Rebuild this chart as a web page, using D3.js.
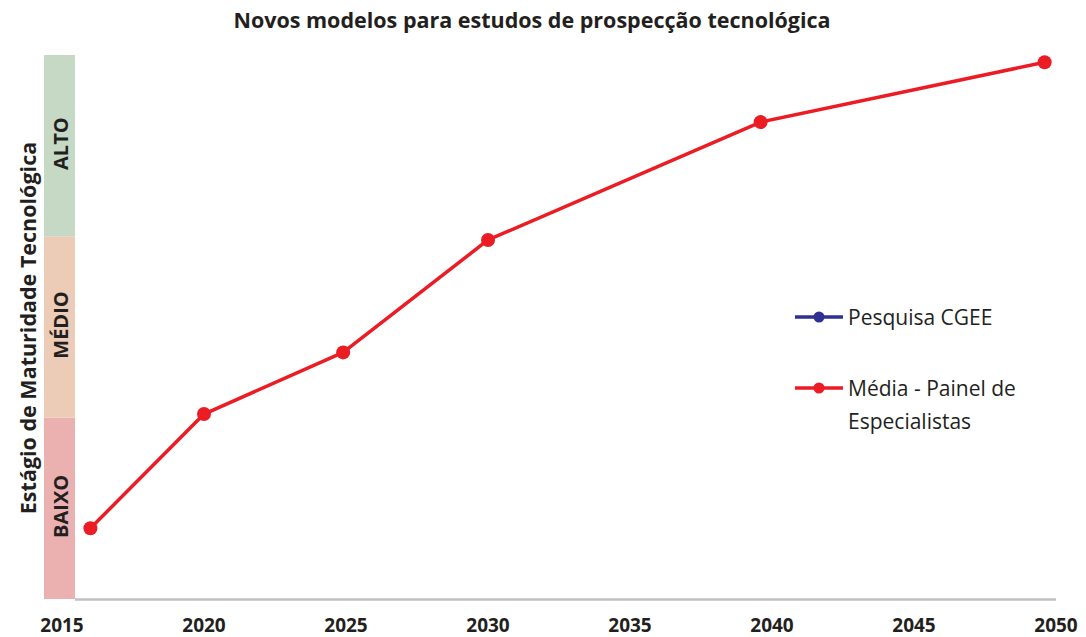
<!DOCTYPE html>
<html>
<head>
<meta charset="utf-8">
<script src="https://d3js.org/d3.v7.min.js"></script>
<style>
  body { margin: 0; background: #fff; }
  svg { font-family: "Open Sans", "Noto Sans", sans-serif; }
</style>
</head>
<body>
<svg id="chart" width="1086" height="637"></svg>
<script>
// data
const years = [2016, 2020, 2024.9, 2030, 2039.6, 2049.6];
const media = [0.39, 1.02, 1.36, 1.98, 2.63, 2.96];
const tickYears = [2015, 2020, 2025, 2030, 2035, 2040, 2045, 2050];
const bands = [
  { name: "BAIXO", from: 0, to: 1, color: "#ebb1b1" },
  { name: "MÉDIO", from: 1, to: 2, color: "#eccbb7" },
  { name: "ALTO", from: 2, to: 3, color: "#c6d9c5" }
];
const legendItems = [
  { label: ["Pesquisa CGEE"], color: "#2e3192" },
  { label: ["Média - Painel de", "Especialistas"], color: "#ec1c24" }
];

const svg = d3.select("#chart");
const x = d3.scaleLinear().domain([2015, 2050]).range([62, 1056]);
const y = d3.scaleLinear().domain([0, 3]).range([599, 55]);

// title
svg.append("text")
  .attr("x", 532).attr("y", 28)
  .attr("text-anchor", "middle")
  .style("font-size", "21.5px").style("font-weight", "bold")
  .attr("fill", "#231f20")
  .text("Novos modelos para estudos de prospecção tecnológica");

// y title
svg.append("text")
  .attr("transform", "translate(36,328) rotate(-90)")
  .attr("text-anchor", "middle")
  .style("font-size", "21.5px").style("font-weight", "bold")
  .attr("fill", "#231f20")
  .text("Estágio de Maturidade Tecnológica");

// maturity bands
const bandG = svg.append("g");
bandG.selectAll("rect").data(bands).join("rect")
  .attr("x", 44).attr("width", 31)
  .attr("y", d => y(d.to)).attr("height", d => y(d.from) - y(d.to))
  .attr("fill", d => d.color);
bandG.selectAll("text").data(bands).join("text")
  .attr("transform", d => `translate(68,${(y(d.from) + y(d.to)) / 2 - 2}) rotate(-90)`)
  .attr("text-anchor", "middle")
  .style("font-size", "20px").style("font-weight", "bold")
  .attr("fill", "#231f20")
  .text(d => d.name);

// x axis line
svg.append("line")
  .attr("x1", 75).attr("x2", 1056)
  .attr("y1", 599.5).attr("y2", 599.5)
  .attr("stroke", "#c2c2c4").attr("stroke-width", 2.5);

svg.append("g").selectAll("text").data(tickYears).join("text")
  .attr("x", d => x(d)).attr("y", 632)
  .attr("text-anchor", "middle")
  .style("font-size", "19px").style("font-weight", "bold")
  .attr("fill", "#231f20")
  .text(d => d);

// series
const pts = years.map((yr, i) => [yr, media[i]]);
svg.append("path")
  .datum(pts)
  .attr("fill", "none")
  .attr("stroke", "#ec1c24")
  .attr("stroke-width", 3.5)
  .attr("stroke-linejoin", "round")
  .attr("d", d3.line().x(d => x(d[0])).y(d => y(d[1])));
svg.append("g").selectAll("circle").data(pts).join("circle")
  .attr("cx", d => x(d[0])).attr("cy", d => y(d[1]))
  .attr("r", 7).attr("fill", "#ec1c24");

// legend
const lg = svg.append("g").selectAll("g").data(legendItems).join("g")
  .attr("transform", (d, i) => `translate(795,${317 + i * 71})`);
lg.append("line")
  .attr("x1", 0).attr("x2", 48)
  .attr("stroke", d => d.color).attr("stroke-width", 3.5);
lg.append("circle")
  .attr("cx", 24).attr("r", 5.5).attr("fill", d => d.color);
lg.append("text")
  .attr("x", 53).attr("y", 8)
  .style("font-size", "21px")
  .attr("fill", "#231f20")
  .selectAll("tspan").data(d => d.label).join("tspan")
  .attr("x", 53).attr("dy", (d, i) => i === 0 ? 0 : 33)
  .text(d => d);
</script>
</body>
</html>
